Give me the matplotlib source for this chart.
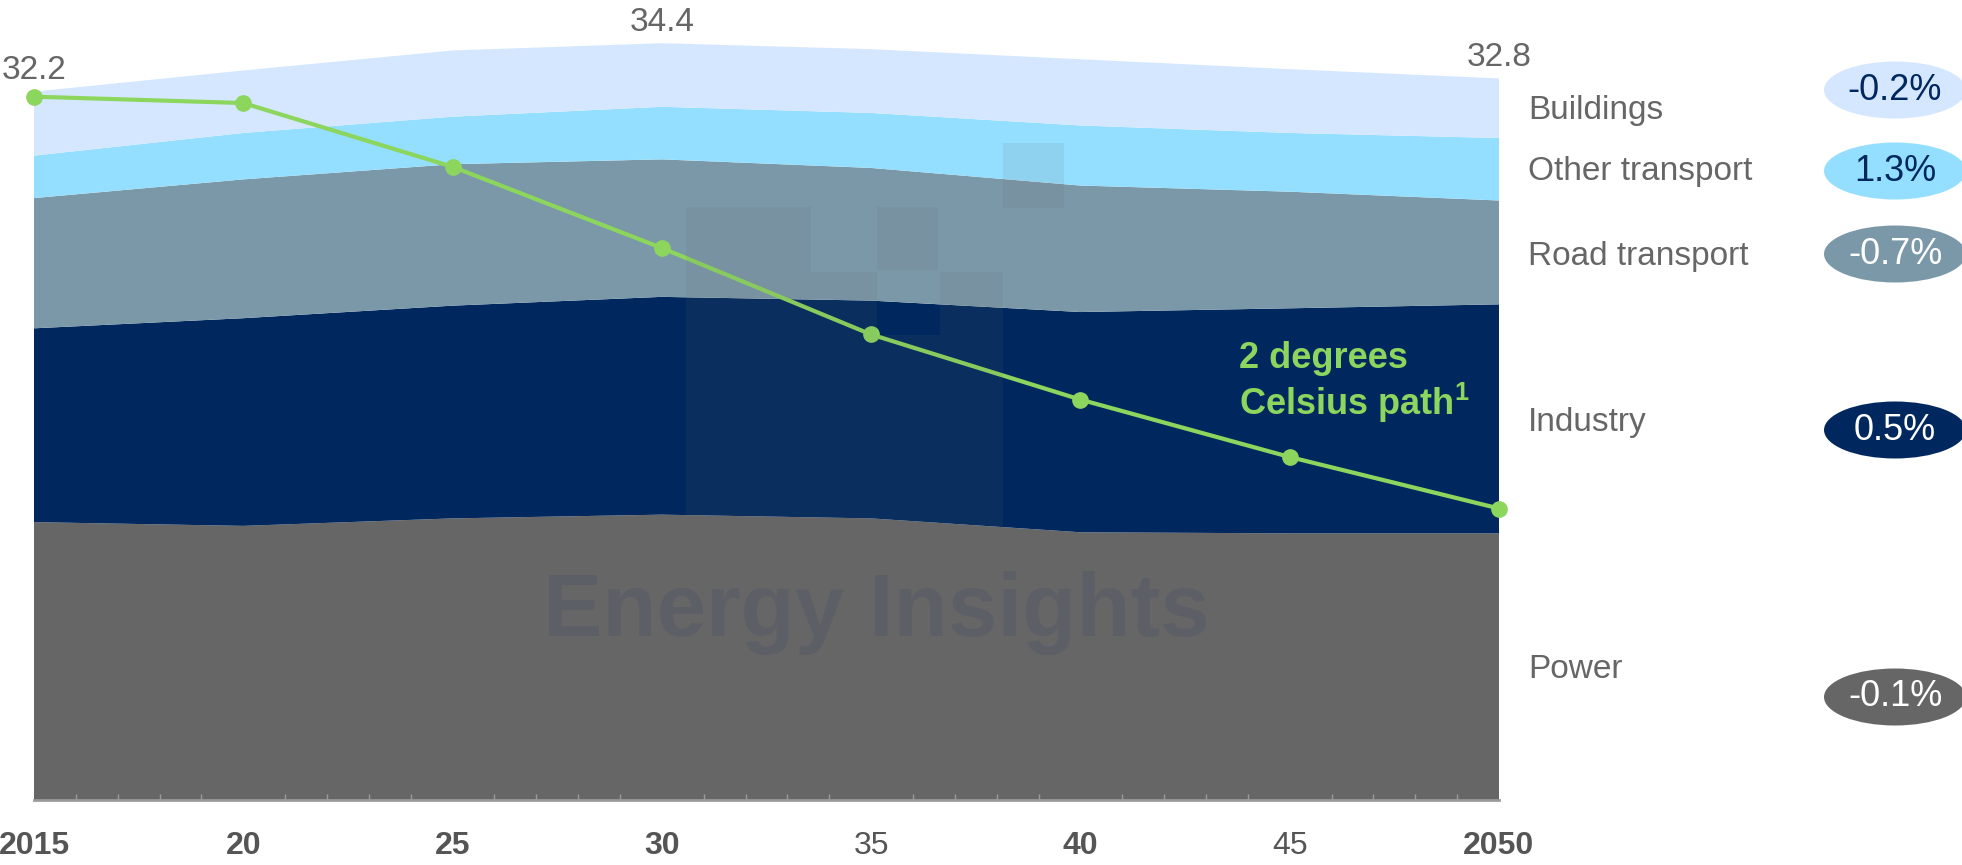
import matplotlib
matplotlib.use("Agg")
import matplotlib.pyplot as plt
from matplotlib.patches import Ellipse, Rectangle

plt.rcParams['font.family'] = ['Liberation Sans', 'DejaVu Sans']
plt.rcParams['mathtext.fontset'] = 'custom'
plt.rcParams['mathtext.bf'] = 'Liberation Sans:bold'
plt.rcParams['mathtext.rm'] = 'Liberation Sans'

# ---------------- data ----------------
years = [2015, 2020, 2025, 2030, 2035, 2040, 2045, 2050]
tick_labels = ["2015", "20", "25", "30", "35", "40", "45", "2050"]
bold_ticks = [True, True, True, True, False, True, False, True]

power = [12.63, 12.46, 12.80, 12.97, 12.80, 12.17, 12.12, 12.12]
industry = [8.81, 9.44, 9.67, 9.90, 9.90, 10.01, 10.23, 10.41]
road_transport = [5.92, 6.31, 6.43, 6.25, 6.03, 5.75, 5.30, 4.72]
other_transport = [1.93, 2.11, 2.16, 2.39, 2.50, 2.73, 2.67, 2.84]
buildings = [2.91, 2.84, 3.01, 2.89, 2.90, 3.01, 2.90, 2.71]

two_degree_path = [31.97, 31.68, 28.78, 25.09, 21.16, 18.20, 15.59, 13.25]

totals_labels = {2015: "32.2", 2030: "34.4", 2050: "32.8"}

sectors = ["Power", "Industry", "Road transport", "Other transport", "Buildings"]
growth = ["-0.1%", "0.5%", "-0.7%", "1.3%", "-0.2%"]
colors = ["#666666", "#00285E", "#7B98A8", "#94DFFF", "#D5E7FF"]
growth_text_colors = ["white", "white", "white", "#00285E", "#00285E"]

green = "#8CD65E"

# ---------------- figure ----------------
W, H = 1962, 865
fig = plt.figure(figsize=(W / 100, H / 100), dpi=100)

def fx(px):
    return px / W

def fy(py):
    return 1 - py / H

x0, x1 = 34, 1499
y_bottom = 800
px_per_unit = 22.0
ax = fig.add_axes([fx(x0), fy(y_bottom), fx(x1) - fx(x0), y_bottom / H])
ax.set_xlim(2015, 2050)
ax.set_ylim(0, y_bottom / px_per_unit)

series = [power, industry, road_transport, other_transport, buildings]
ax.stackplot(years, *series, colors=colors, linewidth=0)

# faint watermark (logo blocks + text), placed in figure pixels
wm_blocks = [(686, 207, 811, 560), (811, 272, 877, 560), (877, 207, 938, 270),
             (877, 335, 940, 560), (940, 272, 1003, 560), (1003, 143, 1064, 208)]
for (a, b, c, d) in wm_blocks:
    fig.add_artist(Rectangle((fx(a), fy(d)), fx(c) - fx(a), (d - b) / H,
                             transform=fig.transFigure, facecolor="#666666",
                             alpha=0.1, edgecolor="none", zorder=1.5))
fig.text(fx(876), fy(613), "Energy Insights", fontsize=64, fontweight="bold",
         color="#4a5568", alpha=0.35, ha="center", va="center", zorder=1.6)

# 2 degree path
ax.plot(years, two_degree_path, color=green, lw=3, marker="o", ms=11,
        zorder=5, clip_on=False)

# totals labels
tot = [sum(v) for v in zip(*series)]
for yr, lab in totals_labels.items():
    i = years.index(yr)
    ax.annotate(lab, (yr, tot[i]), xytext=(0, 4), textcoords="offset points",
                ha="center", va="bottom", fontsize=24, color="#666666",
                annotation_clip=False)

# axis styling
for s in ["top", "right", "left"]:
    ax.spines[s].set_visible(False)
ax.spines["bottom"].set_color("#9a9a9a")
ax.spines["bottom"].set_linewidth(2)
ax.set_yticks([])
ax.set_xticks(years)
ax.set_xticklabels(tick_labels)
ax.set_xticks(range(2015, 2051), minor=True)
ax.tick_params(axis="x", which="major", length=0, pad=22, labelsize=23,
               labelcolor="#555555")
ax.tick_params(axis="x", which="minor", length=4, direction="in",
               color="#9a9a9a", width=1)
for lab, b in zip(ax.get_xticklabels(), bold_ticks):
    lab.set_fontweight("bold" if b else "normal")

# annotation for path
fig.text(fx(1239), fy(359), "2 degrees", fontsize=26, fontweight="bold",
         color=green, ha="left", va="center", zorder=6)
fig.text(fx(1239), fy(403), r"Celsius path$^{\mathbf{1}}$", fontsize=26,
         fontweight="bold", color=green, ha="left", va="center", zorder=6)

# right-hand sector labels and growth ellipses
label_y = [669, 422, 256, 171, 110]
ell_y = [697, 430, 254, 171, 90]
for name, g, c, tc, ly, ey in zip(sectors, growth, colors, growth_text_colors,
                                   label_y, ell_y):
    fig.text(fx(1528), fy(ly), name, fontsize=24, color="#666666",
             ha="left", va="center")
    e = Ellipse((fx(1895), fy(ey)), width=142 / W, height=57 / H,
                transform=fig.transFigure, facecolor=c, edgecolor="none")
    fig.add_artist(e)
    fig.text(fx(1895), fy(ey), g, fontsize=26, color=tc, ha="center",
             va="center")

fig.savefig("out.png", dpi=100)
